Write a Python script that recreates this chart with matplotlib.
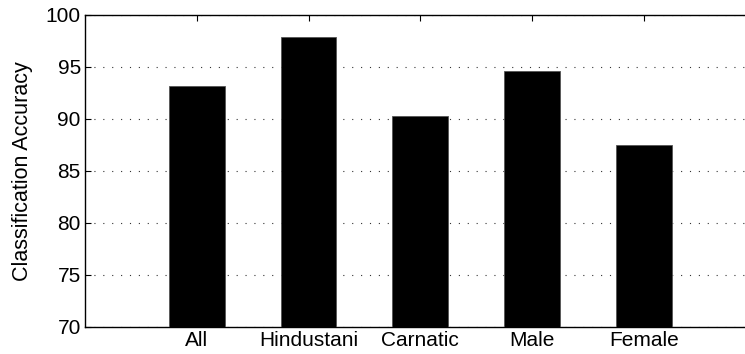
import matplotlib
matplotlib.use("Agg")
import matplotlib.pyplot as plt

categories = ["All", "Hindustani", "Carnatic", "Male", "Female"]
accuracy = [93.2, 97.9, 90.3, 94.6, 87.5]
yticks = [70, 75, 80, 85, 90, 95, 100]

plt.rcParams["font.family"] = ["Liberation Sans", "DejaVu Sans"]

W, H = 745, 354
fig = plt.figure(figsize=(W / 100, H / 100), dpi=100)
left, right, top, bottom = 85, 755.5, 15, 327
ax = fig.add_axes([left / W, 1 - bottom / H, (right - left) / W, (bottom - top) / H])

x = list(range(1, len(categories) + 1))
ax.bar(x, accuracy, width=0.5, color="black", edgecolor="#555555", linewidth=0.6, zorder=3)

ax.set_xlim(0, 6)
ax.set_ylim(70, 100)
ax.set_xticks(x)
ax.set_xticklabels(categories)
ax.set_yticks(yticks)
ax.yaxis.grid(True, linestyle=(0, (1, 7)), color="#333333", linewidth=0.8, zorder=0)
ax.set_axisbelow(True)

ax.tick_params(axis="both", direction="in", labelsize=15, length=4, width=0.8,
               top=True, right=False, pad=3)
for s in ax.spines.values():
    s.set_linewidth(1.0)
ax.spines["right"].set_visible(False)

ax.set_ylabel("Classification Accuracy", fontsize=15.5)
ax.yaxis.set_label_coords(-(85 - 33) / (right - left), 0.5)

fig.savefig("out.png", dpi=100)
